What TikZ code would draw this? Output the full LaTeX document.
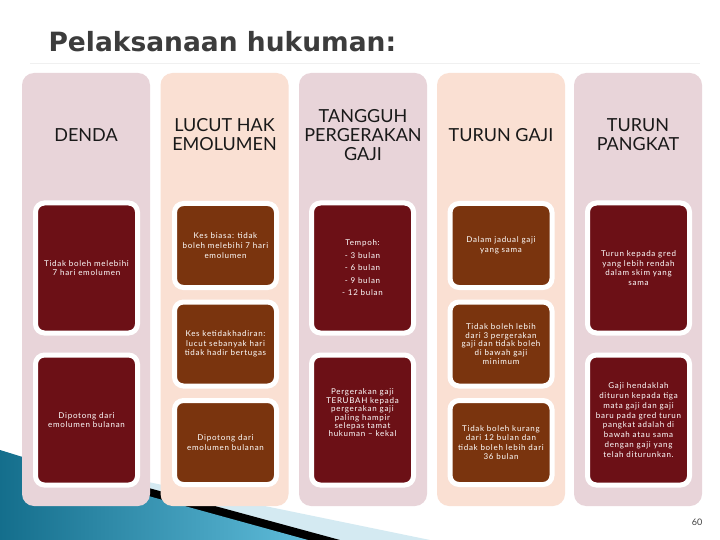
\documentclass[tikz,border=0pt]{standalone}
\usepackage{fontspec}
\setmainfont{Lato}
\newfontfamily\titlefont{DejaVu Sans}
\newfontfamily\boxfont[LetterSpace=9]{Lato}
\definecolor{mauve}{RGB}{232,212,217}
\definecolor{peach}{RGB}{250,224,211}
\definecolor{maroonbox}{RGB}{108,16,22}
\definecolor{brownbox}{RGB}{122,52,14}
\definecolor{tealdark}{RGB}{20,110,140}
\definecolor{teallight}{RGB}{95,188,218}
\definecolor{paleblue}{RGB}{212,234,242}
\definecolor{titlegray}{RGB}{60,60,60}
\tikzset{
  panel/.style={rounded corners=12pt, minimum width=128pt, minimum height=433pt, inner sep=0pt},
  head/.style={font=\fontsize{18}{19}\selectfont, align=center, text=black!90},
  card/.style={rounded corners=9pt, draw=white, line width=5pt, minimum width=102pt, inner sep=0pt,
    text=white, align=center, font=\boxfont\fontsize{8}{9.6}\selectfont},
  tallcard/.style={card, minimum height=130pt},
  shortcard/.style={card, minimum height=84pt},
  cardtext/.style={inner sep=0pt, text=white, align=center, font=\boxfont\fontsize{8}{8.4}\selectfont},
}
\begin{document}
\begin{tikzpicture}[x=1pt,y=-1pt]
\useasboundingbox (0,0) rectangle (720,540);
\fill[white] (0,0) rectangle (720,540);
% decoration bottom left
\fill[paleblue] (148,482) -- (430,540) -- (148,540) -- cycle;
\fill[black] (145,487) -- (340,540) -- (145,540) -- cycle;
\shade[left color=tealdark, right color=teallight] (0,450) -- (152,497) -- (308,540) -- (0,540) -- cycle;
% faint rule under title
\draw[black!6, line width=0.8pt] (30,63) -- (700,63);
% title
\node[anchor=base west, font=\titlefont\bfseries\fontsize{26.5}{28}\selectfont, text=titlegray] (title) at (45,52) {Pelaksanaan hukuman:};
% panels
\node[panel, fill=mauve] (p1) at (86,289.5) {};
\node[panel, fill=peach] (p2) at (224.5,289.5) {};
\node[panel, fill=mauve] (p3) at (363,289.5) {};
\node[panel, fill=peach] (p4) at (501,289.5) {};
\node[panel, fill=mauve] (p5) at (638,289.5) {};
% headings
\node[head] (h1) at (86,135) {DENDA};
\node[head] (h2) at (224.5,135) {LUCUT HAK\\EMOLUMEN};
\node[head] (h3) at (363,135) {TANGGUH\\PERGERAKAN\\GAJI};
\node[head] (h4) at (501,135) {TURUN GAJI};
\node[head] (h5) at (638,135) {TURUN\\PANGKAT};
% column 1
\node[tallcard, fill=maroonbox] (b11) at (86.5,268) {Tidak boleh melebihi\\7 hari emolumen};
\node[tallcard, fill=maroonbox] (b12) at (86.5,420) {Dipotong dari\\emolumen bulanan};
% column 2
\node[shortcard, fill=brownbox] (b21) at (225.5,245.5) {Kes biasa: tidak\\boleh melebihi 7 hari\\emolumen};
\node[shortcard, fill=brownbox] (b22) at (225.5,344) {Kes ketidakhadiran:\\lucut sebanyak hari\\tidak hadir bertugas};
\node[shortcard, fill=brownbox] (b23) at (225.5,442.5) {Dipotong dari\\emolumen bulanan};
% column 3
\node[tallcard, fill=maroonbox, font=\boxfont\fontsize{8}{12.5}\selectfont] (b31) at (362.5,268) {Tempoh:\\- 3 bulan\\- 6 bulan\\- 9 bulan\\- 12 bulan};
\node[tallcard, fill=maroonbox] (b32) at (362.5,420) {};
\node[cardtext] (t32) at (362.5,413) {Pergerakan gaji\\TERUBAH kepada\\pergerakan gaji\\paling hampir\\selepas tamat\\hukuman – kekal};
% column 4
\node[shortcard, fill=brownbox] (b41) at (501,245.5) {Dalam jadual gaji\\yang sama};
\node[shortcard, fill=brownbox, font=\boxfont\fontsize{8}{8.7}\selectfont] (b42) at (501,344) {Tidak boleh lebih\\dari 3 pergerakan\\gaji dan tidak boleh\\di bawah gaji\\minimum};
\node[shortcard, fill=brownbox] (b43) at (501,442.5) {Tidak boleh kurang\\dari 12 bulan dan\\tidak boleh lebih dari\\36 bulan};
% column 5
\node[tallcard, fill=maroonbox] (b51) at (638.5,268) {Turun kepada gred\\yang lebih rendah\\dalam skim yang\\sama};
\node[tallcard, fill=maroonbox, font=\boxfont\fontsize{8}{9.8}\selectfont] (b52) at (638.5,420) {Gaji hendaklah\\diturun kepada tiga\\mata gaji dan gaji\\baru pada gred turun\\pangkat adalah di\\bawah atau sama\\dengan gaji yang\\telah diturunkan.};
% page number
\node[font=\fontsize{9}{10}\selectfont, text=black!75] (pg) at (697,522) {60};
\end{tikzpicture}
\end{document}
